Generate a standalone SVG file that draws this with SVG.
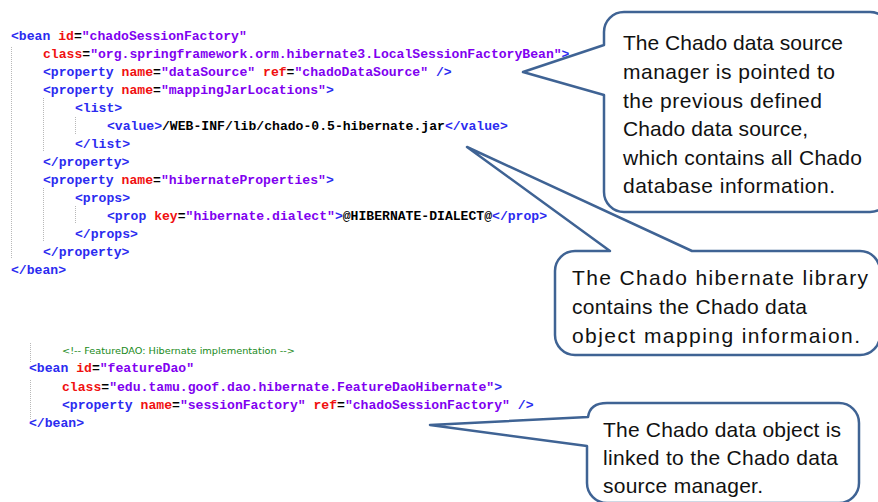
<svg xmlns="http://www.w3.org/2000/svg" width="878" height="502" viewBox="0 0 878 502">
  <style>
    .code { font-family: "Liberation Mono", "Courier New", monospace; font-size: 13.1px; font-weight: bold; white-space: pre; }
    .tag { fill: #2b2bf0; }
    .att { fill: #f01010; }
    .val { fill: #8000f0; }
    .eq { fill: #000000; }
    .txt { fill: #000000; }
    .cmt { font-family: "DejaVu Sans", "Liberation Sans", sans-serif; font-size: 9.5px; fill: #1a8a1a; white-space: pre; }
    .guide { stroke: #b8b8b8; stroke-width: 1; stroke-dasharray: 1 1; fill: none; }
    .callout { fill: #ffffff; stroke: #3f6394; stroke-width: 2.5; stroke-linejoin: round; }
    .note { font-family: "Liberation Sans", Arial, sans-serif; font-size: 21px; fill: #111111; }
  </style>

  <!-- indentation guides -->
  <g id="guides">
    <line class="guide" x1="11.5" y1="47" x2="11.5" y2="259"/>
    <line class="guide" x1="43.5" y1="98" x2="43.5" y2="151"/>
    <line class="guide" x1="43.5" y1="188" x2="43.5" y2="241"/>
    <line class="guide" x1="75.5" y1="117" x2="75.5" y2="134"/>
    <line class="guide" x1="75.5" y1="206" x2="75.5" y2="224"/>
    <line class="guide" x1="30.5" y1="343" x2="30.5" y2="362"/>
    <line class="guide" x1="30.5" y1="380" x2="30.5" y2="420"/>
  </g>

  <!-- session factory bean -->
  <g id="sessionFactoryBean">
    <text class="code" x="11" y="40"><tspan class="tag">&lt;bean</tspan><tspan class="att"> id</tspan><tspan class="eq">=</tspan><tspan class="val">"chadoSessionFactory"</tspan></text>
    <text class="code" x="43" y="58"><tspan class="att">class</tspan><tspan class="eq">=</tspan><tspan class="val">"org.springframework.orm.hibernate3.LocalSessionFactoryBean"</tspan><tspan class="tag">&gt;</tspan></text>
    <text class="code" x="43" y="76"><tspan class="tag">&lt;property</tspan><tspan class="att"> name</tspan><tspan class="eq">=</tspan><tspan class="val">"dataSource"</tspan><tspan class="att"> ref</tspan><tspan class="eq">=</tspan><tspan class="val">"chadoDataSource"</tspan><tspan class="tag"> /&gt;</tspan></text>
    <text class="code" x="43" y="94"><tspan class="tag">&lt;property</tspan><tspan class="att"> name</tspan><tspan class="eq">=</tspan><tspan class="val">"mappingJarLocations"</tspan><tspan class="tag">&gt;</tspan></text>
    <text class="code" x="75" y="112"><tspan class="tag">&lt;list&gt;</tspan></text>
    <text class="code" x="107" y="130"><tspan class="tag">&lt;value&gt;</tspan><tspan class="txt">/WEB-INF/lib/chado-0.5-hibernate.jar</tspan><tspan class="tag">&lt;/value&gt;</tspan></text>
    <text class="code" x="75" y="148"><tspan class="tag">&lt;/list&gt;</tspan></text>
    <text class="code" x="43" y="166"><tspan class="tag">&lt;/property&gt;</tspan></text>
    <text class="code" x="43" y="184"><tspan class="tag">&lt;property</tspan><tspan class="att"> name</tspan><tspan class="eq">=</tspan><tspan class="val">"hibernateProperties"</tspan><tspan class="tag">&gt;</tspan></text>
    <text class="code" x="75" y="202"><tspan class="tag">&lt;props&gt;</tspan></text>
    <text class="code" x="107" y="220"><tspan class="tag">&lt;prop</tspan><tspan class="att"> key</tspan><tspan class="eq">=</tspan><tspan class="val">"hibernate.dialect"</tspan><tspan class="tag">&gt;</tspan><tspan class="txt">@HIBERNATE-DIALECT@</tspan><tspan class="tag">&lt;/prop&gt;</tspan></text>
    <text class="code" x="75" y="238"><tspan class="tag">&lt;/props&gt;</tspan></text>
    <text class="code" x="43" y="256"><tspan class="tag">&lt;/property&gt;</tspan></text>
    <text class="code" x="11" y="274"><tspan class="tag">&lt;/bean&gt;</tspan></text>
  </g>

  <!-- feature DAO bean -->
  <g id="featureDaoBean">
    <text class="cmt" x="62" y="354" textLength="233" lengthAdjust="spacingAndGlyphs">&lt;!-- FeatureDAO: Hibernate implementation --&gt;</text>
    <text class="code" x="29" y="372"><tspan class="tag">&lt;bean</tspan><tspan class="att"> id</tspan><tspan class="eq">=</tspan><tspan class="val">"featureDao"</tspan></text>
    <text class="code" x="62" y="391"><tspan class="att">class</tspan><tspan class="eq">=</tspan><tspan class="val">"edu.tamu.goof.dao.hibernate.FeatureDaoHibernate"</tspan><tspan class="tag">&gt;</tspan></text>
    <text class="code" x="62" y="409"><tspan class="tag">&lt;property</tspan><tspan class="att"> name</tspan><tspan class="eq">=</tspan><tspan class="val">"sessionFactory"</tspan><tspan class="att"> ref</tspan><tspan class="eq">=</tspan><tspan class="val">"chadoSessionFactory"</tspan><tspan class="tag"> /&gt;</tspan></text>
    <text class="code" x="29" y="427"><tspan class="tag">&lt;/bean&gt;</tspan></text>
  </g>

  <!-- callout: data source manager -->
  <g id="calloutDataSource">
    <path class="callout" d="M624,12 H870 A20,20 0 0 1 890,32 V192 A20,20 0 0 1 870,212 H624 A20,20 0 0 1 604,192 V95 L523,72 L604,45 V32 A20,20 0 0 1 624,12 Z"/>
    <text class="note" x="623" y="50" textLength="220" lengthAdjust="spacing">The Chado data source</text>
    <text class="note" x="623" y="79" textLength="212" lengthAdjust="spacing">manager is pointed to</text>
    <text class="note" x="623" y="108" textLength="199" lengthAdjust="spacing">the previous defined</text>
    <text class="note" x="623" y="136" textLength="185" lengthAdjust="spacing">Chado data source,</text>
    <text class="note" x="623" y="165" textLength="239" lengthAdjust="spacing">which contains all Chado</text>
    <text class="note" x="623" y="193" textLength="212" lengthAdjust="spacing">database information.</text>
  </g>

  <!-- callout: hibernate library -->
  <g id="calloutLibrary">
    <path class="callout" d="M575,251 H610 L467,147 L692,251 H860 A20,20 0 0 1 880,271 V335 A20,20 0 0 1 860,355 H575 A20,20 0 0 1 555,335 V271 A20,20 0 0 1 575,251 Z"/>
    <text class="note" x="572" y="285" textLength="296" lengthAdjust="spacing">The Chado hibernate library</text>
    <text class="note" x="572" y="314" textLength="235" lengthAdjust="spacing">contains the Chado data</text>
    <text class="note" x="572" y="343" textLength="288" lengthAdjust="spacing">object mapping informaion.</text>
  </g>

  <!-- callout: data object -->
  <g id="calloutDataObject">
    <path class="callout" d="M607,403 H839 A20,20 0 0 1 859,423 V483 A20,20 0 0 1 839,503 H607 A20,20 0 0 1 587,483 V446 L430,425 L588,417 Q590,403 607,403 Z"/>
    <text class="note" x="603" y="437" textLength="238" lengthAdjust="spacing">The Chado data object is</text>
    <text class="note" x="603" y="465" textLength="235" lengthAdjust="spacing">linked to the Chado data</text>
    <text class="note" x="603" y="493" textLength="160" lengthAdjust="spacing">source manager.</text>
  </g>
</svg>
